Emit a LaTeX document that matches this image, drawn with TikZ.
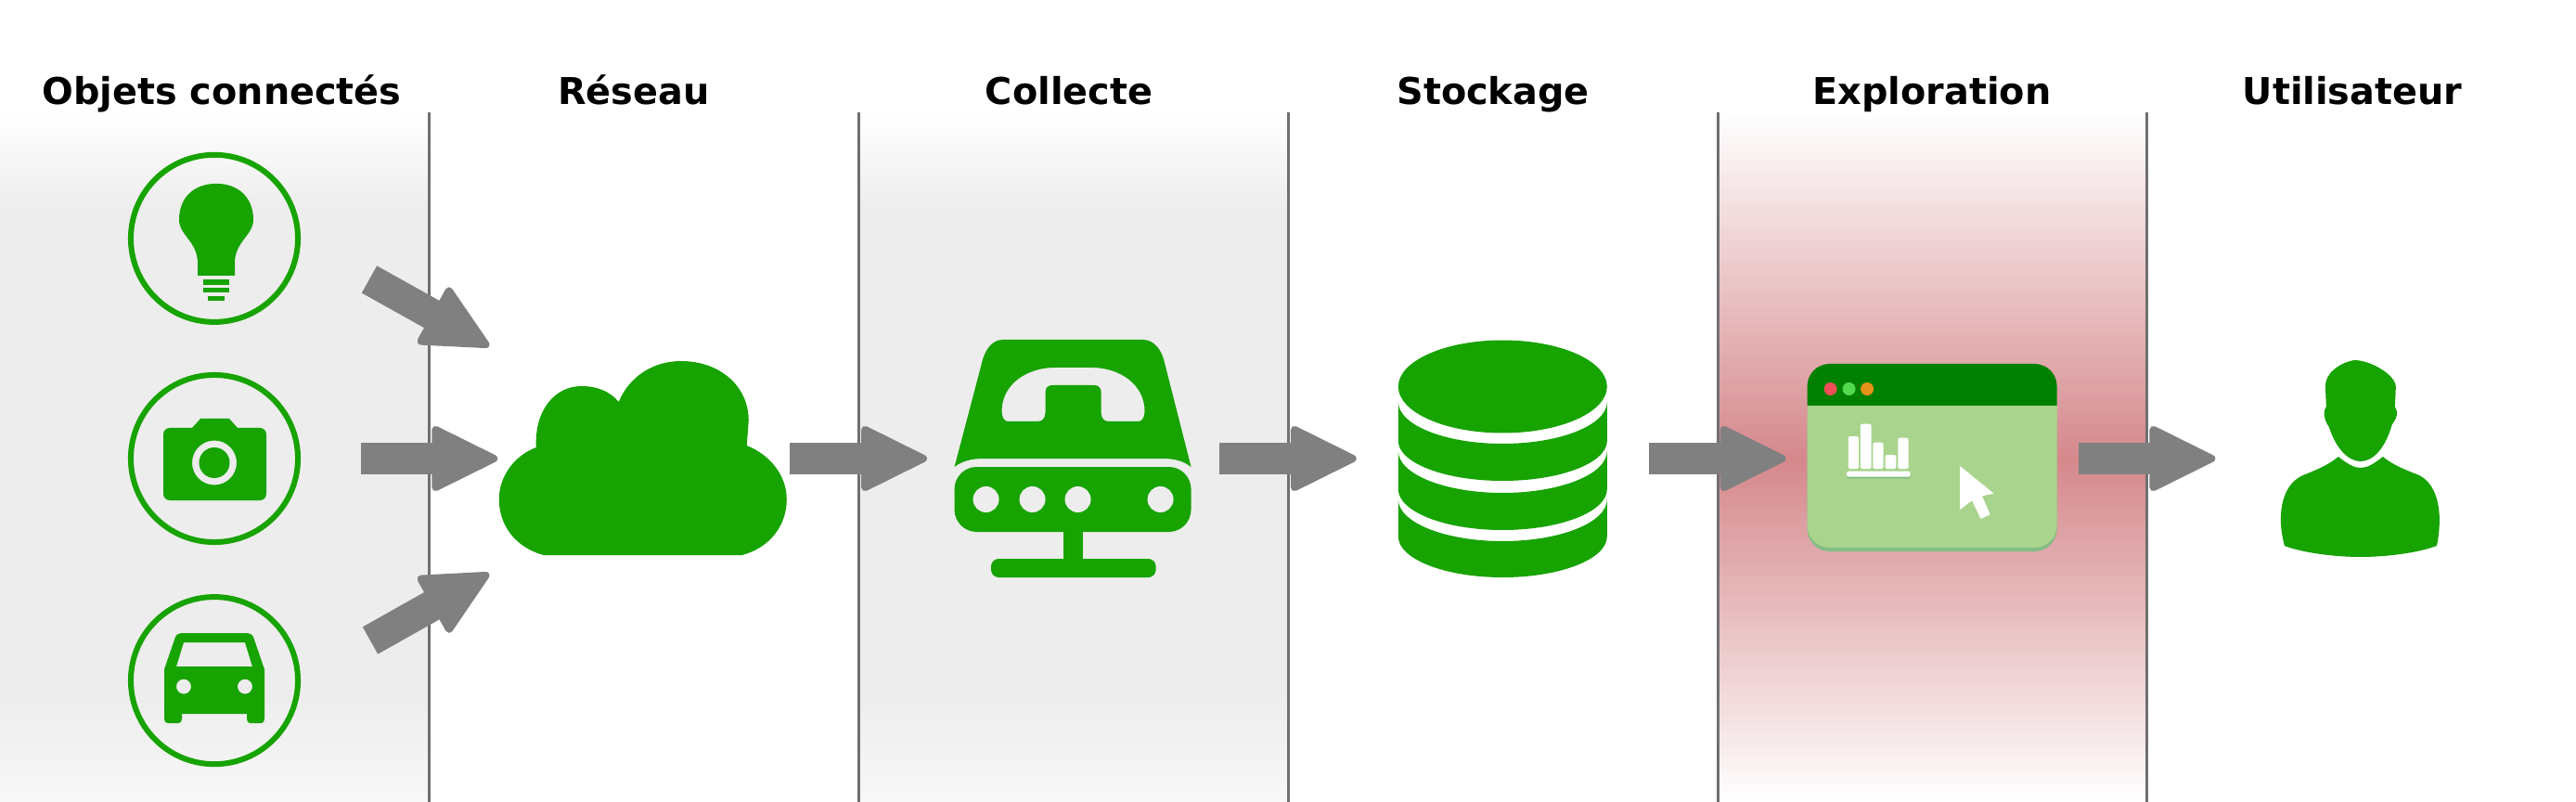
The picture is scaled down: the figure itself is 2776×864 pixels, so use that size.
\documentclass[tikz,border=0pt]{standalone}
\usepackage{fontspec}
\setmainfont{DejaVu Sans}
\usetikzlibrary{arrows.meta}
\definecolor{leaf}{HTML}{17A300}
\definecolor{bandgray}{HTML}{EDEDED}
\definecolor{bandred}{HTML}{D5888C}
\definecolor{barleaf}{HTML}{008000}
\definecolor{paneleaf}{HTML}{A9D48D}
\definecolor{shadeleaf}{HTML}{83BD85}
\definecolor{dotred}{HTML}{F04E58}
\definecolor{dotgreen}{HTML}{52D94E}
\definecolor{dotorange}{HTML}{E8921C}
\tikzset{
	title/.style={anchor=base, font=\fontsize{11.3}{13}\selectfont\bfseries},
	objet/.style={draw=leaf, circle, line width=0.06cm, inner sep=0pt, minimum size=1.8cm},
	slot/.style={rectangle, inner sep=0pt, outer sep=0pt, minimum width=3.15cm, minimum height=2.6cm},
	icon/.style={fill=leaf, even odd rule},
	bigarrow/.style={color=black!50, line width=0.335cm, -{Triangle[length=0.76cm, width=0.73cm, round, line width=0.08cm]}},
}

\begin{document}
\begin{tikzpicture}[x=0.01cm, y=-0.01cm, node distance=4.625cm]
	\useasboundingbox (0,0) rectangle (2776,864);
	
	% bands
	\foreach \bx in {0,925}{
		\shade[top color=white, bottom color=bandgray] (\bx,122) rectangle (\bx+463,225);
		\fill[bandgray] (\bx,225) rectangle (\bx+463,750);
		\shade[top color=bandgray, bottom color=white!60!bandgray] (\bx,750) rectangle (\bx+463,864);
	}
	\shade[top color=white, bottom color=bandred] (1851,122) rectangle (2313,495);
	\shade[top color=bandred, bottom color=white] (1851,495) rectangle (2313,864);
	\foreach \lx in {462,925,1388,1851,2313}
		\draw[black!56, line width=0.03cm] (\lx,121) -- (\lx,864);
	
	\node (t1) [title] at (239,113) {Objets connectés};
	\node (t2) [title] at (683,113) {Réseau};
	\node (t3) [title] at (1152,113) {Collecte};
	\node (t4) [title] at (1609,113) {Stockage};
	\node (t5) [title] at (2082,113) {Exploration};
	\node (t6) [title] at (2535,113) {Utilisateur};
	
	\node (cam) [objet] at (231,494) {};
	\node (bulb) [objet, above of=cam, yshift=-2.255cm] {};
	\node (car) [objet, below of=cam, yshift=2.235cm] {};
	
	\node (net) [slot, right of=cam] {};
	\node (coll) [slot, right of=net] {};
	\node (store) [slot, right of=coll] {};
	\node (expl) [slot, right of=store] {};
	\node (user) [slot, right of=expl] {};
	
	\coordinate (bulbout) at (398,301);
	\coordinate (netup) at (527,373);
	\coordinate (carout) at (399,690);
	\coordinate (netdown) at (527,618);
	
	\begin{scope}[bigarrow]
		\draw (bulbout) -- (netup);
		\draw[shorten <=0.65cm] (cam) -- (net);
		\draw (carout) -- (netdown);
		\draw (net) -- (coll);
		\draw (coll) -- (store);
		\draw (store) -- (expl);
		\draw (expl) -- (user);
	\end{scope}
	
	% bulb
	\begin{scope}[shift={(bulb)}]
		\fill[leaf] (2,-59) .. controls (-22,-59) and (-38,-44) .. (-38,-20)
			.. controls (-38,-4) and (-20,2) .. (-18,24) -- (-18,40) -- (22,40) -- (22,24)
			.. controls (24,2) and (42,-4) .. (42,-20) .. controls (42,-44) and (26,-59) .. (2,-59) -- cycle;
		\fill[leaf] (-12,44) rectangle (16,50);
		\fill[leaf] (-12,53) rectangle (16,58);
		\fill[leaf] (-7,62) rectangle (11,67);
	\end{scope}
	
	% camera
	\begin{scope}[shift={(cam)}]
		\fill[icon] (-48,-33) -- (-24,-33) -- (-15,-43) -- (16,-43) -- (25,-33) -- (49,-33)
			.. controls (53,-33) and (56,-30) .. (56,-26) -- (56,38)
			.. controls (56,42) and (53,45) .. (49,45) -- (-48,45)
			.. controls (-52,45) and (-55,42) .. (-55,38) -- (-55,-26)
			.. controls (-55,-30) and (-52,-33) .. (-48,-33) -- cycle
			(0,4.5) circle [radius=24] (0,4.5) circle [radius=16.5];
	\end{scope}
	
	% car
	\begin{scope}[shift={(car)}]
		\fill[icon] (-36,-51) .. controls (-39,-51) and (-41,-49) .. (-42,-47) -- (-54,-12) -- (-54,41)
			.. controls (-54,44) and (-53,46) .. (-50,46) -- (-39,46) .. controls (-36,46) and (-35,44) .. (-35,41) -- (-35,36)
			-- (35,36) -- (35,41) .. controls (35,44) and (36,46) .. (39,46) -- (50,46)
			.. controls (53,46) and (54,44) .. (54,41) -- (54,-12) -- (42,-47)
			.. controls (41,-49) and (39,-51) .. (36,-51) -- cycle
			(-33,-41) -- (33,-41) -- (41,-15) -- (-41,-15) -- cycle
			(-33,6.5) circle [radius=8] (33,6.5) circle [radius=8];
	\end{scope}
	
	% cloud
	\begin{scope}[shift={(net)}]
		\fill[leaf] (-108,104) .. controls (-138,96) and (-156,72) .. (-156,44)
			.. controls (-156,18) and (-138,-4) .. (-116,-12)
			.. controls (-118,-52) and (-96,-78) .. (-67,-78)
			.. controls (-50,-78) and (-36,-72) .. (-27,-61)
			.. controls (-16,-88) and (10,-105) .. (40,-105)
			.. controls (82,-105) and (113,-78) .. (113,-41) -- (111,-14)
			.. controls (136,-4) and (154,18) .. (154,44)
			.. controls (154,72) and (136,96) .. (106,104) -- cycle;
	\end{scope}
	
	% phone on a switch
	\begin{scope}[shift={(coll)}]
		\fill[icon] (-76,-128) -- (75,-128) .. controls (88,-128) and (96,-116) .. (99,-101) -- (127,9)
			.. controls (118,2) and (108,0) .. (96,0) -- (-96,0) .. controls (-108,0) and (-119,2) .. (-128,9)
			-- (-99,-101) .. controls (-96,-116) and (-88,-128) .. (-76,-128) -- cycle
			(-77,-51) .. controls (-77,-80) and (-50,-98) .. (-20,-98) -- (20,-98)
			.. controls (50,-98) and (77,-80) .. (77,-51) .. controls (77,-44) and (74,-40) .. (70,-40) -- (38,-40)
			.. controls (33,-40) and (30,-44) .. (30,-50) -- (30,-72) .. controls (30,-76) and (27,-79) .. (23,-79)
			-- (-23,-79) .. controls (-27,-79) and (-30,-76) .. (-30,-72) -- (-30,-50)
			.. controls (-30,-44) and (-33,-40) .. (-38,-40) -- (-70,-40)
			.. controls (-74,-40) and (-77,-44) .. (-77,-51) -- cycle;
		\fill[icon] [rounded corners=0.24cm] (-128,9) rectangle (127,79);
		\fill[bandgray] (-94,44) circle [radius=14] (-44,44) circle [radius=14]
			(5,44) circle [radius=14] (94,44) circle [radius=14];
		\fill[leaf] (-10.5,79) rectangle (10,110);
		\fill[leaf] [rounded corners=0.08cm] (-88.5,108) rectangle (89,128);
	\end{scope}
	
	% database
	\begin{scope}[shift={(store)}]
		\fill[leaf] (0,-77.5) ellipse [x radius=112.5, y radius=50];
		\foreach \ys/\ye/\ru/\rd in {-61/-19/45/43, -8/33/45/44, 44/84/45/44}
			\fill[leaf] (-112.5,\ys) arc [start angle=180, end angle=0, x radius=112.5, y radius=\ru] -- (112.5,\ye)
				arc [start angle=0, end angle=180, x radius=112.5, y radius=\rd] -- cycle;
	\end{scope}
	
	% window
	\begin{scope}[shift={(expl)}]
		\fill[shadeleaf] [rounded corners=0.24cm] (-134.5,-60) rectangle (134.5,100);
		\fill[paneleaf] [rounded corners=0.24cm] (-134.5,-70) rectangle (134.5,96);
		\fill[barleaf] (-134.5,-57) -- (-134.5,-78) arc [start angle=180, end angle=270, radius=24] -- (110.5,-102)
			arc [start angle=270, end angle=360, radius=24] -- (134.5,-57) -- cycle;
		\fill[paneleaf] (-134.5,-57) rectangle (134.5,-40);
		\fill[dotred] (-109.5,-75) circle [radius=7];
		\fill[dotgreen] (-89.5,-75) circle [radius=7];
		\fill[dotorange] (-70,-75) circle [radius=7];
		\foreach \bl/\br/\bt in {-90.2/-79.2/-24, -77.2/-65.5/-37.3, -63.8/-52.5/-17.3, -50.5/-38.8/-4, -36.8/-25.5/-22.3}
			\fill[white] [rounded corners=0.02cm] (\bl,\bt) rectangle (\br,11);
		\fill[shadeleaf] [rounded corners=0.02cm] (-92,15) rectangle (-23.5,21.5);
		\fill[white] [rounded corners=0.02cm] (-92,13.7) rectangle (-23.5,19.7);
		\fill[white] (30,8) -- (66.5,37.7) -- (54,40.3) -- (62.5,60.3) -- (52.5,65) -- (43,45.3) -- (30,55) -- cycle;
	\end{scope}
	
	% person
	\begin{scope}[shift={(user)}]
		\fill[leaf] (-8,-106) .. controls (-24,-103) and (-39,-92) .. (-39,-78) -- (-38,-56) -- (-40,-52)
			.. controls (-41,-44) and (-38,-38) .. (-35,-34) .. controls (-28,-12) and (-15,3) .. (-1,3)
			.. controls (13,3) and (26,-12) .. (33,-37) .. controls (36,-41) and (39,-45) .. (38,-51)
			-- (36,-56) -- (37,-77) .. controls (37,-90) and (10,-106) .. (-8,-106) -- cycle;
		\fill[leaf] (-25,-2) .. controls (-15,6) and (-8,10) .. (-1,10) .. controls (6,10) and (13,6) .. (23,-2)
			.. controls (35,8) and (50,13) .. (62,18) .. controls (78,26) and (84,46) .. (84,66)
			.. controls (84,76) and (83,86) .. (81,94) .. controls (60,102) and (25,106) .. (-1,106)
			.. controls (-27,106) and (-62,102) .. (-83,94) .. controls (-85,86) and (-87,76) .. (-87,66)
			.. controls (-87,46) and (-81,26) .. (-63,18) .. controls (-51,13) and (-37,8) .. (-25,-2) -- cycle;
	\end{scope}
	
\end{tikzpicture}
\end{document}
